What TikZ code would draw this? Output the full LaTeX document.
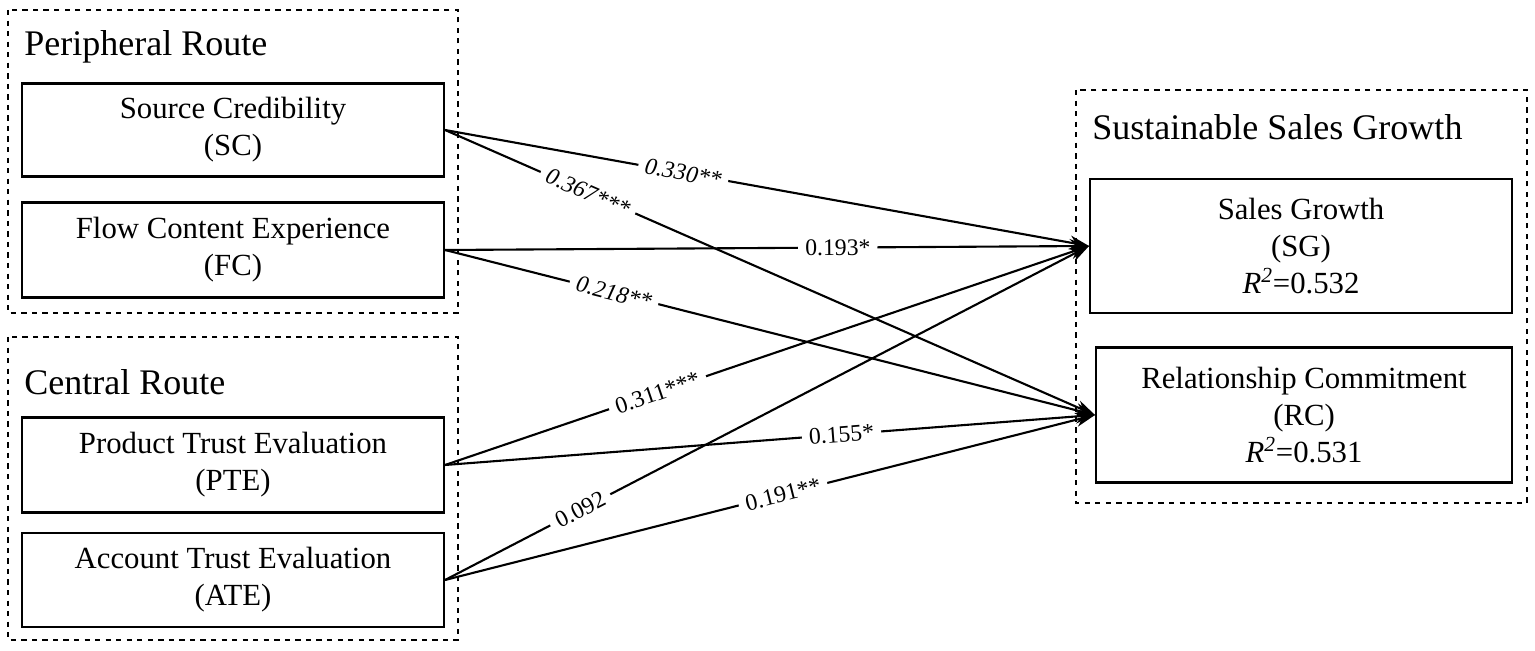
\documentclass[tikz,border=0pt]{standalone}
\usepackage{fontspec}
\setmainfont{Liberation Serif}
\usetikzlibrary{arrows.meta}
\begin{document}
\begin{tikzpicture}[x=0.02cm,y=-0.02cm,
  box/.style={draw,line width=1.2pt,align=center,font=\fontsize{17.5}{21}\selectfont,inner sep=0},
  grp/.style={draw,dashed,line width=1pt},
  ttl/.style={anchor=west,font=\fontsize{20.5}{22}\selectfont,inner sep=0},
  arr/.style={-{Stealth[length=11pt,width=8pt]},line width=1.2pt},
  lab/.style={sloped,fill=white,inner xsep=4pt,inner ysep=1pt,font=\fontsize{13.5}{15}\selectfont}]
\useasboundingbox (0,0) rectangle (1535,651);
\draw[grp] (8,10) rectangle (458,313);
\draw[grp] (8,337) rectangle (458,640);
\draw[grp] (1076,90) rectangle (1527,503);
\node[ttl] (t1) at (24,47) {Peripheral Route};
\node[ttl] (t2) at (24,382) {Central Route};
\node[ttl] (t3) at (1092,127) {Sustainable Sales Growth};
\node[box,minimum width=8.44cm,minimum height=1.86cm] (sc) at (233,130) {Source Credibility\\(SC)};
\node[box,minimum width=8.44cm,minimum height=1.9cm] (fc) at (233,250) {Flow Content Experience\\(FC)};
\node[box,minimum width=8.44cm,minimum height=1.9cm] (pte) at (233,465) {Product Trust Evaluation\\(PTE)};
\node[box,minimum width=8.44cm,minimum height=1.88cm] (ate) at (233,580) {Account Trust Evaluation\\(ATE)};
\node[box,minimum width=8.44cm,minimum height=2.68cm] (sg) at (1301,246) {Sales Growth\\(SG)\\\textit{R}$^{\mathit{2}}$=0.532};
\node[box,minimum width=8.32cm,minimum height=2.7cm] (rc) at (1304,415) {Relationship Commitment\\(RC)\\\textit{R}$^{\mathit{2}}$=0.531};
\draw[arr] (sc.east) -- node[lab,pos=0.37]{\itshape 0.330**} (sg.west);
\draw[arr] (sc.east) -- node[lab,pos=0.22]{\itshape 0.367***} (rc.west);
\draw[arr] (fc.east) -- node[lab,pos=0.61]{0.193*} (sg.west);
\draw[arr] (fc.east) -- node[lab,pos=0.26]{\itshape 0.218**} (rc.west);
\draw[arr] (pte.east) -- node[lab,pos=0.33]{0.311***} (sg.west);
\draw[arr] (pte.east) -- node[lab,pos=0.61]{0.155*} (rc.west);
\draw[arr] (ate.east) -- node[lab,pos=0.21]{0.092} (sg.west);
\draw[arr] (ate.east) -- node[lab,pos=0.52]{0.191**} (rc.west);
\end{tikzpicture}
\end{document}
